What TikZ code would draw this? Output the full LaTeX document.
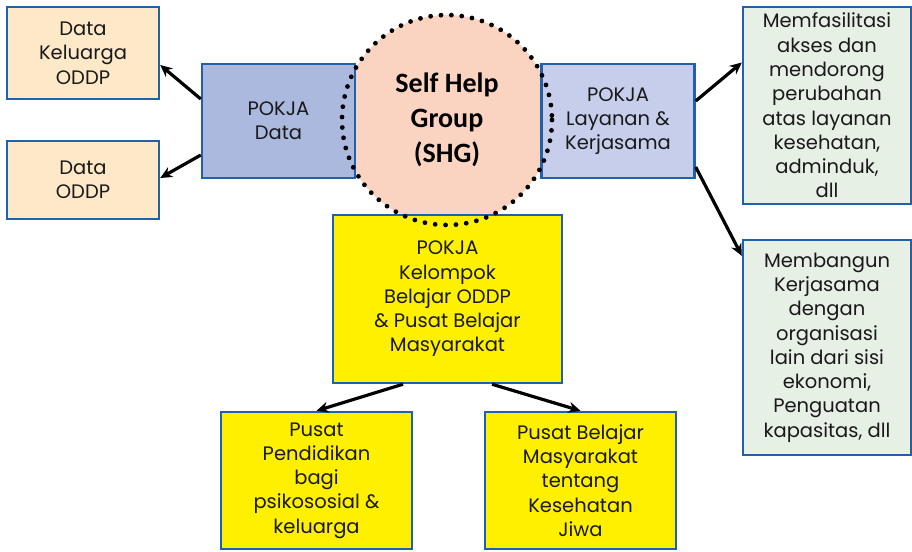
\documentclass[tikz,border=0pt]{standalone}
\usepackage{fontspec}
\setmainfont{Poppins}
\newfontfamily\shgfont{Carlito}
\usetikzlibrary{arrows.meta}

\definecolor{boxblue}{RGB}{31,97,170}
\definecolor{textgray}{RGB}{25,25,25}
\definecolor{datafill}{RGB}{253,233,200}
\definecolor{pokjafill}{RGB}{171,185,223}
\definecolor{layananfill}{RGB}{198,206,235}
\definecolor{shgfill}{RGB}{251,211,193}
\definecolor{greenfill}{RGB}{231,240,229}
\definecolor{yellowfill}{RGB}{255,240,0}

\tikzset{
  box/.style={draw=boxblue, line width=2.4pt, align=center, inner sep=0pt,
    text=textgray, font=\fontsize{19.5}{24.3}\selectfont},
  databox/.style={box, fill=datafill, minimum width=152pt},
  pokjabox/.style={box, minimum width=153pt, minimum height=114pt},
  greenbox/.style={box, fill=greenfill, minimum width=168pt},
  yellowbox/.style={box, fill=yellowfill},
  shgcircle/.style={circle, fill=shgfill, minimum size=210pt, align=center,
    inner sep=0pt, font=\shgfont\bfseries\fontsize{28}{35}\selectfont},
  shgdots/.style={line width=4.8pt, line cap=round, dash pattern=on 0pt off 10.4pt},
  arr/.style={->, line width=3.2pt}
}

\begin{document}
\begin{tikzpicture}[x=1pt, y=-1pt, >={Stealth[length=12pt,width=11pt]}]
\useasboundingbox (0,0) rectangle (912,551);

% Lingkaran SHG (isi di belakang)
\node[shgcircle] (shg) at (447,120) {Self Help\\Group\\(SHG)};

% Kotak kiri
\node[databox, minimum height=92pt] (dk) at (83,53) {Data\\Keluarga\\ODDP};
\node[databox, minimum height=78pt] (dd) at (83,180) {Data\\ODDP};
\node[pokjabox, fill=pokjafill] (pd) at (278.5,121) {POKJA\\Data};

% Kotak kanan
\node[pokjabox, fill=layananfill] (pl) at (618,121) {POKJA\\Layanan \&\\Kerjasama};
\node[greenbox, minimum height=197pt] (mf) at (827,105.5)
  {Memfasilitasi\\akses dan\\mendorong\\perubahan\\atas layanan\\kesehatan,\\adminduk,\\dll};
\node[greenbox, minimum height=215pt] (mb) at (827,347.5)
  {Membangun\\Kerjasama\\dengan\\organisasi\\lain dari sisi\\ekonomi,\\Penguatan\\kapasitas, dll};

% Kotak kuning
\node[yellowbox, minimum width=229pt, minimum height=168pt] (kb) at (447.5,299)
  {POKJA\\Kelompok\\Belajar ODDP\\\& Pusat Belajar\\Masyarakat};
\node[yellowbox, minimum width=191pt, minimum height=137pt] (pp) at (316.5,480.5)
  {Pusat\\Pendidikan\\bagi\\psikososial \&\\keluarga};
\node[yellowbox, minimum width=191pt, minimum height=137pt] (pb) at (580.5,480.5)
  {Pusat Belajar\\Masyarakat\\tentang\\Kesehatan\\Jiwa};

% Garis titik SHG
\draw[shgdots] (shg.center) circle (105);

% Panah
\draw[arr] ([yshift=22pt]pd.west) -- ([yshift=-12pt]dk.east);
\draw[arr] ([yshift=-34pt]pd.west) -- ([yshift=2pt]dd.east);
\draw[arr] ([yshift=20pt]pl.east) -- ([yshift=43pt]mf.west);
\draw[arr] ([yshift=-46pt]pl.east) -- ([yshift=-17pt]mb.north west);
\draw[arr] ([xshift=-44.5pt]kb.south) -- (pp.north);
\draw[arr] ([xshift=44.5pt]kb.south) -- (pb.north);
\end{tikzpicture}
\end{document}
